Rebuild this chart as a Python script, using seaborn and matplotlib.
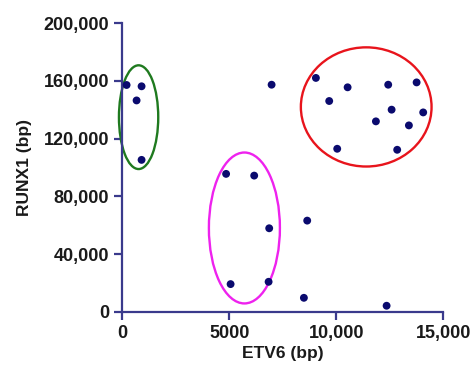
import matplotlib
matplotlib.use("Agg")
import matplotlib.pyplot as plt
from matplotlib.patches import Ellipse
from matplotlib.ticker import FuncFormatter
import seaborn as sns
import pandas as pd

# breakpoint positions
etv6 = [205, 905, 672, 905,
        6981, 9051, 10533, 9673, 12430, 13757, 12589, 14065, 11855, 13397, 10047, 12850,
        4855, 6168, 6869, 5065, 6841,
        8645, 8490, 12355]
runx1 = [157200, 156300, 146500, 105300,
         157400, 162100, 155600, 146100, 157400, 159000, 140100, 138200, 132000, 129200, 113000, 112300,
         95600, 94400, 57900, 19200, 20800,
         63200, 9700, 4200]

# cluster outlines: centre x, centre y, width, height, colour
clusters = [
    (766, 134900, 1836, 71900, "#1f7a1f"),
    (11402, 142000, 6107, 82600, "#e8141c"),
    (5710, 58100, 3318, 104600, "#ee22ee"),
]

x_ticks = [0, 5000, 10000, 15000]
x_labels = ["0", "5000", "10,000", "15,000"]
y_ticks = [0, 40000, 80000, 120000, 160000, 200000]

axis_col = "#3a3a8c"

sns.set_style("ticks")
plt.rcParams['font.family'] = ['Liberation Sans', 'DejaVu Sans']

df = pd.DataFrame({"ETV6": etv6, "RUNX1": runx1})

fig = plt.figure(figsize=(4.7, 3.69), dpi=100)
ax = fig.add_axes([0.260, 0.155, 0.683, 0.782])

sns.scatterplot(data=df, x="ETV6", y="RUNX1", ax=ax, color="#0a0a6e",
                s=32, edgecolor="none", zorder=3, clip_on=False)

for cx, cy, w, h, c in clusters:
    ax.add_patch(Ellipse((cx, cy), w, h, fill=False, edgecolor=c, lw=1.7,
                         zorder=2, clip_on=False))

ax.set_xlim(0, 15000)
ax.set_ylim(0, 200000)
ax.set_xticks(x_ticks)
ax.set_xticklabels(x_labels)
ax.set_yticks(y_ticks)
ax.yaxis.set_major_formatter(FuncFormatter(lambda v, p: f"{int(v):,}"))

sns.despine(ax=ax)
for side in ["left", "bottom"]:
    ax.spines[side].set_color(axis_col)
    ax.spines[side].set_linewidth(1.6)
ax.tick_params(colors=axis_col, width=1.6, length=6, labelsize=13, labelcolor="#1a1a1a")
for lab in ax.get_xticklabels() + ax.get_yticklabels():
    lab.set_fontweight("bold")

ax.set_xlabel("ETV6 (bp)", fontsize=12.5, fontweight="bold", color="#1a1a1a", labelpad=3)
ax.set_ylabel("RUNX1 (bp)", fontsize=12.5, fontweight="bold", color="#1a1a1a", labelpad=8)

fig.savefig("out.png", dpi=100)
